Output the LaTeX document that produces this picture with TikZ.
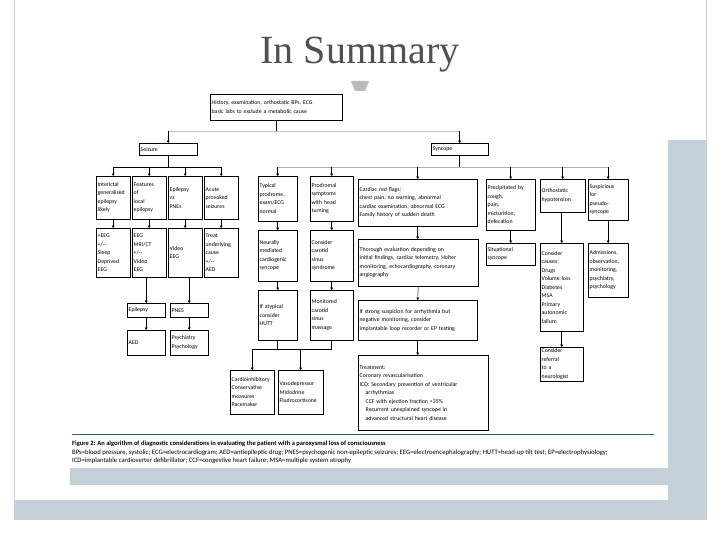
\documentclass[tikz,border=0pt]{standalone}
\usepackage{fontspec}
\setmainfont{Liberation Serif}
\newfontfamily\figfont{Carlito}
\usetikzlibrary{arrows.meta}
\definecolor{framecol}{HTML}{C5D1D8}
\definecolor{titlegrey}{HTML}{505050}
\definecolor{capgreen}{HTML}{2F6A4E}

\begin{document}
\begin{tikzpicture}[x=1pt,y=-1pt]

  \tikzset{
    flowbox/.style={
      draw=black,
      line width=0.4pt,
      text width=#1,
      inner xsep=1.5pt,
      inner ysep=1.5pt,
      align=left,
      anchor=north west,
      font=\figfont\fontsize{5.8}{8.5}\selectfont
    },
    flow/.style={line width=0.5pt, -{Triangle[length=2.4pt,width=2.8pt]}},
    link/.style={line width=0.5pt},
    captext/.style={anchor=west, inner sep=0pt, font=\figfont\fontsize{6.7}{7}\selectfont}
  }

  \useasboundingbox (0,0) rectangle (720,540);
  \fill[white] (0,0) rectangle (720,540);

  % slide frame
  \fill[framecol] (668,140) rectangle (706,500);
  \fill[framecol] (14,500) rectangle (706,520);
  \fill[framecol] (70,468) rectangle (668,485);
  \draw[framecol, line width=1pt] (14,0) -- (14,520);
  \draw[framecol, line width=1pt] (706,0) -- (706,520);

  \node[font=\fontsize{40}{40}\selectfont, text=titlegrey] (title) at (360,55) {In Summary};
  \fill[gray!55] (351,81) -- (369,81) -- (365,91) -- (355,91) -- cycle;

  % top of the algorithm
  \node[flowbox=129pt, minimum height=26pt] (hist) at (210,94)
    {History, examination, orthostatic BPs, ECG\\basic labs to exclude a metabolic cause};
  \node[flowbox=55pt, minimum height=12pt] (seizure) at (139,143) {Seizure};
  \node[flowbox=54pt, minimum height=12pt] (syncope) at (431,143) {Syncope};

  \coordinate (split) at (0,131);
  \coordinate (szbar) at (0,167);
  \coordinate (sybar) at (0,167);
  \coordinate (hbar) at (0,349);

  % seizure branch
  \node[flowbox=31pt, minimum height=43pt] (A1) at (96,176) {Interictal\\generalised\\epilepsy\\likely};
  \node[flowbox=31pt, minimum height=43pt] (B1) at (132,176) {Features\\of\\local\\epilepsy};
  \node[flowbox=31pt, minimum height=43pt] (C1) at (168,176) {Epilepsy\\vs\\PNEs};
  \node[flowbox=31pt, minimum height=43pt] (D1) at (204,176) {Acute\\provoked\\seizures};

  \node[flowbox=31pt, minimum height=49pt] (A2) at (96,228) {+EEG\\+/--\\Sleep\\Deprived\\EEG};
  \node[flowbox=31pt, minimum height=49pt] (B2) at (132,228) {EEG\\MRI/CT\\+/--\\Video\\EEG};
  \node[flowbox=31pt, minimum height=49pt] (C2) at (168,228) {Video\\EEG};
  \node[flowbox=31pt, minimum height=49pt] (D2) at (204,228) {Treat\\underlying\\cause\\+/--\\AED};

  \node[flowbox=35pt, minimum height=14pt] (epi) at (127,303) {Epilepsy};
  \node[flowbox=35pt, minimum height=14pt] (pnes) at (170,303) {PNES};
  \node[flowbox=35pt, minimum height=25pt] (aed) at (127,330) {AED};
  \node[flowbox=35pt, minimum height=25pt] (psy) at (170,330) {Psychiatry\\Psychology};

  % syncope branch
  \node[flowbox=36pt, minimum height=45pt] (E1) at (258,176) {Typical\\prodrome,\\exam/ECG\\normal};
  \node[flowbox=40pt, minimum height=45pt] (F1) at (310,176) {Prodromal\\symptoms\\with head\\turning};
  \node[flowbox=116pt, minimum height=47pt] (G1) at (358,179)
    {Cardiac red flags:\\chest pain, no warning, abnormal\\cardiac examination, abnormal ECG\\Family history of sudden death};
  \node[flowbox=46pt, minimum height=51pt] (H1) at (486,179) {Precipitated by\\cough,\\pain,\\micturition,\\defecation};
  \node[flowbox=42pt, minimum height=33pt] (I1) at (540,179) {Orthostatic\\hypotension};
  \node[flowbox=37pt, minimum height=41pt] (J1) at (588,179) {Suspicious\\for\\pseudo-\\syncope};

  \node[flowbox=36pt, minimum height=51pt] (E2) at (258,230) {Neurally\\mediated\\cardiogenic\\syncope};
  \node[flowbox=40pt, minimum height=51pt] (F2) at (310,230) {Consider\\carotid\\sinus\\syndrome};
  \node[flowbox=117pt, minimum height=47pt] (G2) at (358,239)
    {Thorough evaluation depending on\\initial findings, cardiac telemetry, Holter\\monitoring, echocardiography, coronary\\angiography};
  \node[flowbox=46pt, minimum height=22pt] (H2) at (486,243) {Situational\\syncope};
  \node[flowbox=40pt, minimum height=88pt] (I2) at (540,243)
    {Consider\\causes:\\Drugs\\Volume loss\\Diabetes\\MSA\\Primary\\autonomic\\failure};
  \node[flowbox=37pt, minimum height=54pt] (J2) at (588,243)
    {Admissions,\\observation,\\monitoring,\\psychiatry,\\psychology};

  \node[flowbox=36pt, minimum height=50pt] (E3) at (258,290) {If atypical\\consider\\HUTT};
  \node[flowbox=40pt, minimum height=50pt] (F3) at (310,290) {Monitored\\carotid\\sinus\\massage};
  \node[flowbox=116pt, minimum height=40pt] (G3) at (358,300)
    {If strong suspicion for arrhythmia but\\negative monitoring, consider\\implantable loop recorder or EP testing};
  \node[flowbox=40pt, minimum height=33pt] (I3) at (540,347) {Consider\\referral\\to a\\neurologist};

  \node[flowbox=41pt, minimum height=44pt] (cardio) at (230,370) {Cardioinhibitory\\Conservative\\measures\\Pacemaker};
  \node[flowbox=42pt, minimum height=44pt] (vaso) at (278,370) {Vasodepressor\\Midodrine\\Fludrocortisone};
  \node[flowbox=127pt, minimum height=75pt] (treat) at (358,355)
    {Treatment:\\Coronary revascularisation\\ICD: Secondary prevention of ventricular\\
     \hspace*{6pt}arrhythmias\\\hspace*{6pt}CCF with ejection fraction {<}35\%\\
     \hspace*{6pt}Recurrent unexplained syncope in\\\hspace*{6pt}advanced structural heart disease};

  % connectors
  \draw[link] (hist.south) -- (hist.south |- split);
  \draw[link, gray!45] (seizure.north |- split) -- (syncope.north |- split);
  \draw[flow] (seizure.north |- split) -- (seizure.north);
  \draw[flow] (syncope.north |- split) -- (syncope.north);

  \draw[link] (seizure.south) -- (seizure.south |- szbar);
  \draw[link] (A1.north |- szbar) -- (D1.north |- szbar);
  \foreach \n in {A,B,C,D} {
    \draw[flow] (\n1.north |- szbar) -- (\n1.north);
    \draw[flow] (\n1.south) -- (\n2.north);
  }
  \draw[flow] (B2.south -| epi.north) -- (epi.north);
  \draw[flow] (C2.south -| pnes.north) -- (pnes.north);
  \draw[flow] (epi.south) -- (aed.north);
  \draw[flow] (pnes.south) -- (psy.north);

  \draw[link] (syncope.south) -- (syncope.south |- sybar);
  \draw[link, gray!60] (E1.north |- sybar) -- (J1.north |- sybar);
  \foreach \n in {E,F,G,H,I,J} {
    \draw[flow] (\n1.north |- sybar) -- (\n1.north);
  }
  \foreach \n in {E,F,G,H,J} {
    \draw[flow] (\n1.south) -- (\n1.south |- \n2.north);
  }
  \draw[flow] (I1.south -| I2.north) -- (I2.north);
  \draw[flow] (E2.south) -- (E3.north);
  \draw[flow] (F2.south) -- (F3.north);
  \draw[flow] (G2.south) -- (G3.north);
  \draw[flow] (I2.south) -- (I3.north);
  \draw[flow] (G3.south) -- (G3.south |- treat.north);

  \draw[link] (E3.south) -- (E3.south |- hbar);
  \draw[link] (F3.south) -- (F3.south |- hbar);
  \draw[link] (cardio.north |- hbar) -- (F3.south |- hbar);
  \draw[flow] (cardio.north |- hbar) -- (cardio.north);
  \draw[flow] (vaso.north |- hbar) -- (vaso.north);

  % caption
  \draw[capgreen, line width=0.8pt] (72,434) -- (654,434);
  \node[captext, font=\figfont\bfseries\fontsize{6.5}{7}\selectfont] (capA) at (72,444)
    {Figure 2: An algorithm of diagnostic considerations in evaluating the patient with a paroxysmal loss of consciousness};
  \node[captext] (capB) at (72,453)
    {BPs=blood pressure, systolic; ECG=electrocardiogram; AED=antiepileptic drug; PNES=psychogenic non-epileptic seizures; EEG=electroencephalography; HUTT=head-up tilt test; EP=electrophysiology;};
  \node[captext] (capC) at (72,461)
    {ICD=implantable cardioverter defibrillator; CCF=congestive heart failure; MSA=multiple system atrophy};

\end{tikzpicture}
\end{document}
